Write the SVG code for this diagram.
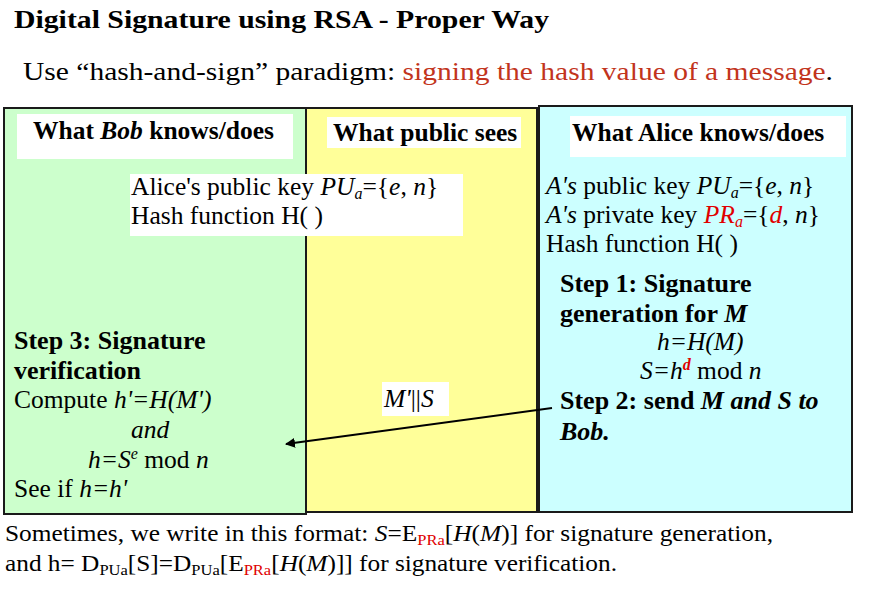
<svg xmlns="http://www.w3.org/2000/svg" width="889" height="596" viewBox="0 0 889 596">
<defs>
<style>
text{font-family:"Liberation Serif","Times New Roman",serif;fill:#000}
.b{font-weight:bold}
.i{font-style:italic}
.t{font-size:25.5px}
.h{font-size:25.5px;font-weight:bold}
.s{font-size:26px;font-weight:bold}
.sub{font-size:16px}
.red{fill:#e00000}
.panel{stroke:#1a1a1a;stroke-width:2}
.lab{fill:#fff}
</style>
<marker id="ah" viewBox="0 0 10 10" refX="9" refY="5" markerWidth="5" markerHeight="5" orient="auto" markerUnits="strokeWidth">
<path d="M0,0 L10,5 L0,10 z" fill="#000"/>
</marker>
</defs>
<rect width="889" height="596" fill="#fff"/>
<g id="title">
<text x="14" y="28" class="b" font-size="26" textLength="535" lengthAdjust="spacingAndGlyphs">Digital Signature using RSA - Proper Way</text>
<text x="23" y="80" font-size="26" textLength="810" lengthAdjust="spacingAndGlyphs">Use “hash-and-sign” paradigm: <tspan fill="#c2341c">signing the hash value of a message</tspan>.</text>
</g>
<g id="public-panel">
<rect x="306" y="108" width="231" height="404" fill="#ffff99" class="panel"/>
<rect x="327" y="117" width="194" height="31" class="lab"/>
<text x="333" y="141" class="h">What public sees</text>
</g>
<g id="bob-panel">
<rect x="4" y="108" width="302" height="406" fill="#ccffcc" class="panel"/>
<rect x="17" y="114" width="276" height="45" class="lab"/>
<text x="33" y="139" class="h">What <tspan class="i">Bob</tspan> knows/does</text>
<text x="14" y="349" class="s">Step 3: Signature</text>
<text x="14" y="379" class="s">verification</text>
<text x="14" y="408" class="t">Compute <tspan class="i">h'=H(M')</tspan></text>
<text x="131" y="438" class="t i">and</text>
<text x="88" y="468" class="t"><tspan class="i">h=S</tspan><tspan class="sub i" dy="-9">e</tspan><tspan dy="9"> mod </tspan><tspan class="i">n</tspan></text>
<text x="14" y="497" class="t">See if <tspan class="i">h=h'</tspan></text>
</g>
<g id="alice-panel">
<rect x="539" y="106" width="313" height="406" fill="#ccffff" class="panel"/>
<rect x="570" y="116" width="276" height="41" class="lab"/>
<text x="572" y="141" class="h">What Alice knows/does</text>
<text x="546" y="194" class="t"><tspan class="i">A's</tspan> public key <tspan class="i">PU</tspan><tspan class="sub i" dy="4">a</tspan><tspan dy="-4">={</tspan><tspan class="i">e</tspan>, <tspan class="i">n</tspan>}</text>
<text x="546" y="223" class="t"><tspan class="i">A's</tspan> private key <tspan class="i red">PR</tspan><tspan class="sub i red" dy="4">a</tspan><tspan dy="-4">={</tspan><tspan class="i red">d</tspan>, <tspan class="i">n</tspan>}</text>
<text x="546" y="252" class="t">Hash function H( )</text>
<text x="560" y="292" class="s">Step 1: Signature</text>
<text x="560" y="322" class="s">generation  for <tspan class="i">M</tspan></text>
<text x="657" y="350" class="t i">h=H(M)</text>
<text x="640" y="379" class="t"><tspan class="i">S=h</tspan><tspan class="sub i b red" dy="-9">d</tspan><tspan dy="9"> mod </tspan><tspan class="i">n</tspan></text>
<text x="560" y="409" class="s">Step 2: send <tspan class="i">M and S to</tspan></text>
<text x="560" y="440" class="s i">Bob.</text>
</g>
<g id="alice-key-note">
<rect x="130" y="174" width="333" height="62" class="lab"/>
<text x="131" y="195" class="t">Alice's public key <tspan class="i">PU</tspan><tspan class="sub i" dy="4">a</tspan><tspan dy="-4">={</tspan><tspan class="i">e</tspan>, <tspan class="i">n</tspan>}</text>
<text x="131" y="224" class="t">Hash function H( )</text>
</g>
<g id="message-label">
<rect x="382" y="382" width="67" height="34" class="lab"/>
<text x="384" y="407" class="t"><tspan class="i">M'</tspan>||<tspan class="i">S</tspan></text>
</g>
<g id="connectors">
<line x1="552" y1="408" x2="286" y2="444" stroke="#000" stroke-width="2" marker-end="url(#ah)"/>
</g>
<g id="footnote">
<text x="5" y="541" font-size="23" textLength="768" lengthAdjust="spacingAndGlyphs">Sometimes, we write in this format: <tspan class="i">S</tspan>=E<tspan class="red" font-size="15" dy="4">PRa</tspan><tspan dy="-4">[</tspan><tspan class="i">H</tspan>(<tspan class="i">M</tspan>)] for signature generation,</text>
<text x="5" y="571" font-size="23" textLength="612" lengthAdjust="spacingAndGlyphs">and h= D<tspan font-size="15" dy="4">PUa</tspan><tspan dy="-4">[S]=D</tspan><tspan font-size="15" dy="4">PUa</tspan><tspan dy="-4">[E</tspan><tspan class="red" font-size="15" dy="4">PRa</tspan><tspan dy="-4">[</tspan><tspan class="i">H</tspan>(<tspan class="i">M</tspan>)]] for signature verification.</text>
</g>
</svg>
